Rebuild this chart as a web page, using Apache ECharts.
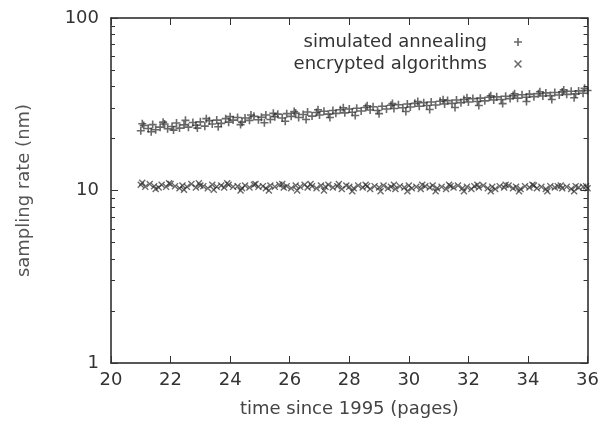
<!DOCTYPE html>
<html>
<head>
<meta charset="utf-8">
<script src="https://cdn.jsdelivr.net/npm/echarts@6/dist/echarts.min.js"></script>
<style>
  html, body { margin: 0; padding: 0; background: #fff; }
  #chart { width: 602px; height: 435px; }
</style>
</head>
<body>
<div id="chart"></div>
<script>
// x ticks, y ticks (log)
var xTicks = [20, 22, 24, 26, 28, 30, 32, 34, 36];
var yMajor = [1, 10, 100];
var yMinor = [2, 3, 4, 5, 6, 7, 8, 9, 20, 30, 40, 50, 60, 70, 80, 90];

// simulated annealing  [time, rate]
var annealing = [
  [21.0,22.2],[21.1,23.8],[21.25,22.9],[21.4,24.1],[21.5,22.5],[21.65,23.3],[21.8,24.3],[21.9,22.8],
  [22.05,23.5],[22.2,24.6],[22.3,23.0],[22.45,24.0],[22.6,23.3],[22.75,24.8],[22.85,23.9],[23.0,25.0],
  [23.15,23.6],[23.3,25.4],[23.4,24.3],[23.55,25.6],[23.7,24.5],[23.85,26.1],[23.95,24.9],[24.1,25.6],
  [24.25,26.5],[24.4,24.9],[24.5,26.3],[24.65,25.5],[24.8,26.9],[24.95,25.7],[25.05,26.6],[25.2,27.4],
  [25.35,25.8],[25.5,26.8],[25.6,27.7],[25.75,26.3],[25.9,27.9],[26.05,26.9],[26.2,28.1],[26.3,26.5],
  [26.45,27.6],[26.6,28.5],[26.75,27.0],[26.9,28.3],[27.0,27.4],[27.15,28.8],[27.3,27.7],[27.45,29.1],
  [27.55,28.0],[27.7,29.4],[27.85,28.2],[28.0,29.7],[28.1,28.4],[28.25,30.0],[28.4,28.9],[28.55,30.3],
  [28.7,29.3],[28.8,30.6],[28.95,29.1],[29.1,30.8],[29.25,29.7],[29.4,31.2],[29.5,29.9],[29.65,31.4],
  [29.8,30.2],[29.95,31.7],[30.05,30.5],[30.2,32.0],[30.35,30.8],[30.5,32.3],[30.6,31.1],[30.75,32.6],
  [30.9,31.3],[31.05,32.9],[31.2,31.7],[31.3,33.2],[31.45,32.0],[31.6,33.5],[31.75,32.3],[31.85,33.7],
  [32.0,32.6],[32.15,34.1],[32.3,32.8],[32.4,34.3],[32.55,33.1],[32.7,34.7],[32.85,33.5],[32.95,34.9],
  [33.1,33.7],[33.25,35.2],[33.4,34.1],[33.5,35.5],[33.65,34.3],[33.8,35.9],[33.95,34.7],[34.05,36.2],
  [34.2,35.0],[34.35,36.4],[34.5,35.3],[34.6,36.8],[34.75,35.5],[34.9,37.0],[35.05,35.8],[35.15,37.3],
  [35.3,36.1],[35.45,37.6],[35.6,36.3],[35.7,37.8],[35.85,36.6],[36.0,38.0],
  [21.05,24.4],[21.35,21.9],[21.75,24.9],[22.1,22.4],[22.5,25.5],[22.9,23.0],[23.2,26.1],[23.6,23.4],
  [24.0,26.8],[24.35,24.1],[24.7,27.4],[25.15,24.7],[25.45,28.0],[25.85,25.2],[26.15,28.7],[26.55,25.8],
  [26.95,29.4],[27.35,26.5],[27.8,30.2],[28.2,27.2],[28.6,31.0],[29.0,27.9],[29.45,31.9],[29.9,28.7],
  [30.3,32.8],[30.7,29.5],[31.15,33.6],[31.55,30.3],[31.95,34.5],[32.35,31.1],[32.75,35.4],[33.15,31.9],
  [33.55,36.4],[33.95,32.8],[34.4,37.4],[34.8,33.7],[35.2,38.3],[35.55,34.5],[35.9,39.1]
];

// encrypted algorithms  [time, rate]
var encrypted = [
  [21.0,10.8],[21.15,10.5],[21.3,10.9],[21.45,10.6],[21.6,10.4],[21.7,10.8],[21.85,10.5],[22.0,10.9],
  [22.15,10.6],[22.3,10.3],[22.4,10.7],[22.55,10.5],[22.7,10.9],[22.85,10.4],[23.0,10.7],[23.1,10.6],
  [23.25,10.3],[23.4,10.8],[23.55,10.5],[23.7,10.7],[23.8,10.4],[23.95,10.8],[24.1,10.5],[24.25,10.6],
  [24.4,10.3],[24.5,10.7],[24.65,10.4],[24.8,10.8],[24.95,10.5],[25.1,10.6],[25.2,10.3],[25.35,10.7],
  [25.5,10.5],[25.65,10.8],[25.8,10.4],[25.9,10.6],[26.05,10.3],[26.2,10.7],[26.35,10.5],[26.5,10.8],
  [26.6,10.4],[26.75,10.6],[26.9,10.3],[27.05,10.7],[27.2,10.5],[27.3,10.8],[27.45,10.4],[27.6,10.6],
  [27.75,10.2],[27.9,10.7],[28.0,10.5],[28.15,10.3],[28.3,10.7],[28.45,10.4],[28.6,10.6],[28.7,10.2],
  [28.85,10.6],[29.0,10.4],[29.15,10.7],[29.3,10.3],[29.4,10.5],[29.55,10.2],[29.7,10.6],[29.85,10.4],
  [30.0,10.7],[30.1,10.3],[30.25,10.5],[30.4,10.2],[30.55,10.6],[30.7,10.4],[30.8,10.7],[30.95,10.3],
  [31.1,10.5],[31.25,10.2],[31.4,10.6],[31.5,10.4],[31.65,10.7],[31.8,10.3],[31.95,10.5],[32.1,10.2],
  [32.2,10.6],[32.35,10.4],[32.5,10.7],[32.65,10.3],[32.8,10.5],[32.9,10.2],[33.05,10.6],[33.2,10.4],
  [33.35,10.7],[33.5,10.3],[33.6,10.5],[33.75,10.2],[33.9,10.6],[34.05,10.4],[34.2,10.7],[34.3,10.3],
  [34.45,10.5],[34.6,10.2],[34.75,10.6],[34.9,10.4],[35.0,10.6],[35.15,10.3],[35.3,10.5],[35.45,10.2],
  [35.6,10.6],[35.7,10.4],[35.85,10.5],[36.0,10.3],
  [21.05,11.1],[21.5,10.2],[21.95,11.0],[22.45,10.1],[22.95,11.0],[23.45,10.1],[23.9,11.0],[24.35,10.0],
  [24.85,10.9],[25.3,10.0],[25.75,10.9],[26.25,10.0],[26.7,10.9],[27.15,10.0],[27.65,10.9],[28.1,9.9],
  [28.55,10.8],[29.05,9.9],[29.5,10.8],[29.95,9.9],[30.45,10.8],[30.9,9.9],[31.35,10.8],[31.85,9.9],
  [32.3,10.8],[32.75,9.9],[33.25,10.8],[33.7,9.9],[34.15,10.8],[34.65,9.9],[35.1,10.7],[35.55,9.9],
  [35.95,10.6]
];

var plusPath = 'path://M3.2,0h1.6v8h-1.6zM0,3.2h8v1.6h-8z';
var crossPath = 'path://M0,1.1L1.1,0L8,6.9L6.9,8ZM6.9,0L8,1.1L1.1,8L0,6.9Z';
var font = 'DejaVu Sans, sans-serif';
var frameLine = { color: '#222', width: 1.5 };

function xAxis(pos, labels) {
  return {
    type: 'value', position: pos, min: 20, max: 36, interval: 2,
    axisLine: { show: true, onZero: false, lineStyle: frameLine },
    axisTick: { show: true, inside: true, length: 7, lineStyle: { color: '#333' } },
    axisLabel: { show: labels, color: '#333', fontFamily: font, fontSize: 18, margin: 8 },
    splitLine: { show: false },
    name: labels ? 'time since 1995 (pages)' : '',
    nameLocation: 'middle', nameGap: 37,
    nameTextStyle: { color: '#444', fontFamily: font, fontSize: 18 }
  };
}

function yAxis(pos, ticks, len, line, labels) {
  return {
    type: 'log', logBase: 10, position: pos, min: 1, max: 100,
    axisLine: { show: line, onZero: false, lineStyle: frameLine },
    axisTick: { show: true, inside: true, length: len, customValues: ticks, lineStyle: { color: '#333' } },
    axisLabel: { show: labels, customValues: yMajor, color: '#333', fontFamily: font, fontSize: 18, margin: 12 },
    splitLine: { show: false },
    name: labels ? 'sampling rate (nm)' : '',
    nameLocation: 'middle', nameGap: 78,
    nameTextStyle: { color: '#555', fontFamily: font, fontSize: 18 }
  };
}

var chart = echarts.init(document.getElementById('chart'));
chart.setOption({
  backgroundColor: '#fff',
  animation: false,
  grid: { left: 111, right: 14, top: 18, bottom: 72 },
  legend: {
    orient: 'vertical', right: 75, top: 28, align: 'right', itemGap: 4,
    itemWidth: 8, itemHeight: 8,
    textStyle: { color: '#333', fontFamily: font, fontSize: 18, padding: [0, 22, 0, 0] },
    data: ['simulated annealing', 'encrypted algorithms']
  },
  xAxis: [xAxis('bottom', true), xAxis('top', false)],
  yAxis: [
    yAxis('left', yMajor, 7, true, true),
    yAxis('right', yMajor, 7, true, false),
    yAxis('left', yMinor, 4, false, false),
    yAxis('right', yMinor, 4, false, false)
  ],
  series: [
    {
      name: 'simulated annealing', type: 'scatter', data: annealing,
      symbol: plusPath, symbolSize: 8,
      itemStyle: { color: '#2a2a2a', opacity: 0.7 }
    },
    {
      name: 'encrypted algorithms', type: 'scatter', data: encrypted,
      symbol: crossPath, symbolSize: 7,
      itemStyle: { color: '#2a2a2a', opacity: 0.7 }
    }
  ]
});
</script>
</body>
</html>
